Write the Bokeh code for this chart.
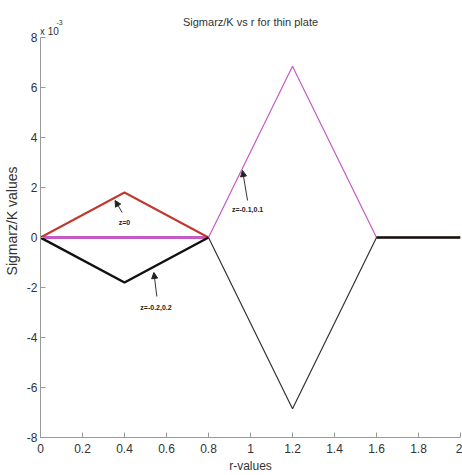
import numpy as np
from bokeh.plotting import figure
from bokeh.models import Label, Arrow, NormalHead, FixedTicker
from bokeh.embed import file_html
from bokeh.resources import INLINE

# r positions
r = [0.0, 0.4, 0.8, 1.2, 1.6, 2.0]
# Sigmarz/K values (x 10^-3); nan = not drawn
sig_z0 = [0.0, 1.8, 0.0, np.nan, 0.0, 0.0]        # z=0
sig_z01 = [0.0, 0.0, 0.0, 6.85, 0.0, np.nan]      # z=-0.1,0.1
sig_z02 = [0.0, -1.8, 0.0, -6.85, 0.0, 0.0]       # z=-0.2,0.2

x_ticks = [0, 0.2, 0.4, 0.6, 0.8, 1.0, 1.2, 1.4, 1.6, 1.8, 2.0]
x_tick_labels = ["0", "0.2", "0.4", "0.6", "0.8", "1", "1.2", "1.4", "1.6", "1.8", "2"]
y_ticks = [-8, -6, -4, -2, 0, 2, 4, 6, 8]
y_tick_labels = ["-8", "-6", "-4", "-2", "0", "2", "4", "6", "8"]

FONT = "Liberation Sans"
AXC = "#9a9a9a"
TXC = "#333333"

# extra room above y=8 inside the frame holds the title and exponent
p = figure(width=462, height=475, output_backend="svg", toolbar_location=None,
           x_range=(0, 2), y_range=(-8, 9.48),
           min_border_left=39, min_border_right=2, min_border_top=0, min_border_bottom=38)
p.outline_line_color = None
p.xgrid.visible = False
p.ygrid.visible = False

RED = "#c0392f"
MAG = "#c45ac4"
BLK = "#111111"

# left part (thicker) and right part (thinner)
p.line(r[:3], sig_z01[:3], line_color=MAG, line_width=3)
p.line(r[:3], sig_z0[:3], line_color=RED, line_width=2)
p.line(r[:3], sig_z02[:3], line_color=BLK, line_width=2.5)
p.line(r[2:], sig_z0[2:], line_color=RED, line_width=1.5)
p.line(r[2:], sig_z01[2:], line_color=MAG, line_width=1.2)
p.line(r[2:5], sig_z02[2:5], line_color="#333333", line_width=1.2)
p.line(r[4:], sig_z02[4:], line_color=BLK, line_width=2.5)

for ax in (p.xaxis[0], p.yaxis[0]):
    ax.axis_line_color = AXC
    ax.major_tick_line_color = AXC
    ax.minor_tick_line_color = None
    ax.major_tick_in = 5
    ax.major_tick_out = 0
    ax.major_label_text_font = FONT
    ax.major_label_text_font_size = "12px"
    ax.major_label_text_color = TXC
    ax.axis_label_text_font_style = "normal"
    ax.axis_label_text_color = TXC

p.yaxis.bounds = (-8, 8)
p.xaxis.ticker = FixedTicker(ticks=x_ticks)
p.xaxis.major_label_overrides = {t: l for t, l in zip(x_ticks, x_tick_labels)}
p.yaxis.ticker = FixedTicker(ticks=y_ticks)
p.yaxis.major_label_overrides = {t: l for t, l in zip(y_ticks, y_tick_labels)}
p.xaxis.major_label_standoff = 6
p.yaxis.major_label_standoff = 3

p.xaxis.axis_label = "r-values"
p.xaxis.axis_label_text_font = FONT
p.xaxis.axis_label_text_font_size = "12px"
p.xaxis.axis_label_standoff = 3
p.yaxis.axis_label = "Sigmarz/K  values"
p.yaxis.axis_label_text_font = FONT
p.yaxis.axis_label_text_font_size = "14px"
p.yaxis.axis_label_standoff = 4

# title
p.add_layout(Label(x=1.0, y=8.64, text="Sigmarz/K vs r for thin plate", text_align="center",
                   text_baseline="middle", text_font=FONT, text_font_size="11px", text_color=TXC))
# exponent
p.add_layout(Label(x=-0.003, y=8.26, text="x 10", text_align="left", text_baseline="middle",
                   text_font=FONT, text_font_size="10px", text_color=TXC))
p.add_layout(Label(x=0.076, y=8.6, text="-3", text_align="left", text_baseline="middle",
                   text_font=FONT, text_font_size="7px", text_color=TXC))

# annotations
ann = [
    ("z=0", 0.40, 0.62, 0.389, 1.0, 0.355, 1.48),
    ("z=-0.2,0.2", 0.55, -2.78, 0.554, -2.36, 0.540, -1.4),
    ("z=-0.1,0.1", 0.986, 1.14, 0.986, 1.48, 0.962, 2.68),
]
for txt, tx, ty, x0, y0, x1, y1 in ann:
    p.add_layout(Label(x=tx, y=ty, text=txt, text_align="center", text_baseline="middle",
                       text_font=FONT, text_font_size="7px", text_font_style="bold", text_color="#222222"))
    p.add_layout(Arrow(x_start=x0, y_start=y0, x_end=x1, y_end=y1, line_color="#333333", line_width=1,
                       end=NormalHead(size=6, line_color="#222222", fill_color="#222222")))

open("out.html", "w").write(file_html(p, INLINE))
